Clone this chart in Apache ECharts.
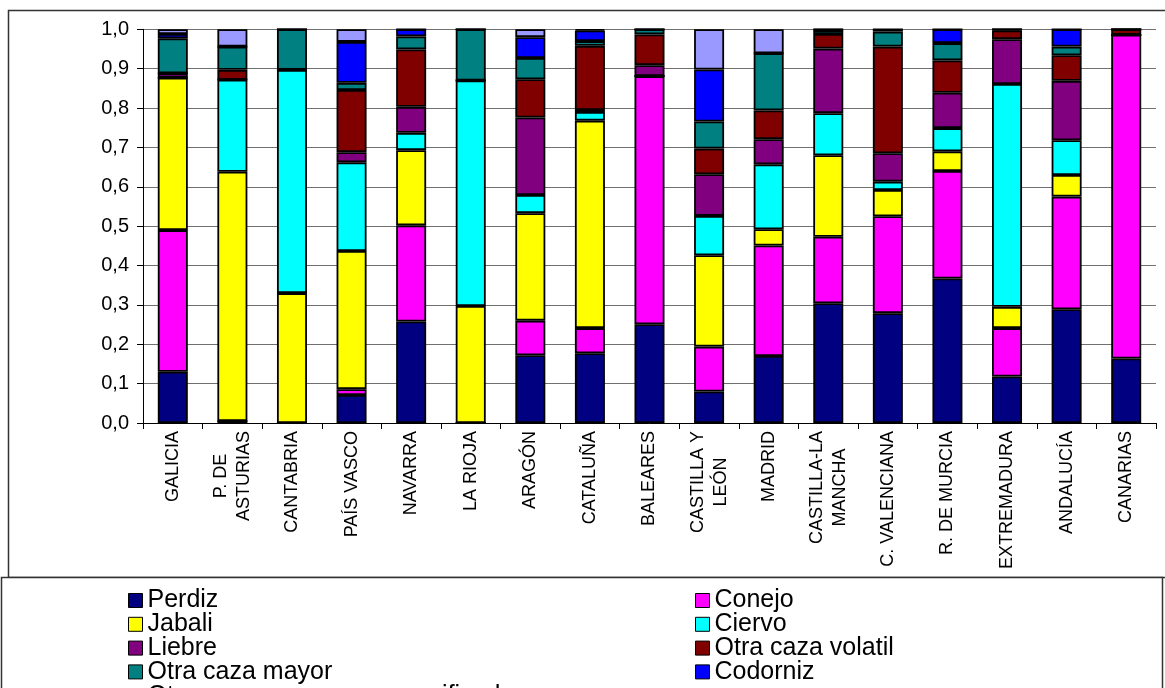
<!DOCTYPE html>
<html>
<head>
<meta charset="utf-8">
<script src="https://cdn.jsdelivr.net/npm/echarts@6/dist/echarts.min.js"></script>
<style>
  html, body { margin: 0; padding: 0; background: #fff; }
  #chart { width: 1165px; height: 688px; }
</style>
</head>
<body>
<div id="chart"></div>
<script>
// Regions (comunidades autónomas), in drawing order
const categories = ['GALICIA', 'P. DE\nASTURIAS', 'CANTABRIA', 'PAÍS VASCO', 'NAVARRA', 'LA RIOJA',
  'ARAGÓN', 'CATALUÑA', 'BALEARES', 'CASTILLA Y\nLEÓN', 'MADRID', 'CASTILLA-LA\nMANCHA',
  'C. VALENCIANA', 'R. DE MURCIA', 'EXTREMADURA', 'ANDALUCÍA', 'CANARIAS'];

// Share of each game type per region (each column sums to 1)
const perdiz   = [0.130, 0.005, 0.000, 0.071, 0.258, 0.000, 0.172, 0.177, 0.251, 0.080, 0.170, 0.304, 0.279, 0.367, 0.118, 0.289, 0.164];
const conejo   = [0.360, 0.000, 0.000, 0.015, 0.244, 0.000, 0.088, 0.064, 0.630, 0.114, 0.281, 0.169, 0.246, 0.273, 0.123, 0.286, 0.822];
const jabali   = [0.387, 0.633, 0.330, 0.351, 0.191, 0.297, 0.273, 0.527, 0.000, 0.232, 0.041, 0.207, 0.067, 0.050, 0.054, 0.055, 0.000];
const ciervo   = [0.000, 0.234, 0.567, 0.225, 0.044, 0.573, 0.046, 0.022, 0.000, 0.100, 0.165, 0.107, 0.021, 0.059, 0.566, 0.088, 0.000];
const liebre   = [0.011, 0.000, 0.000, 0.026, 0.066, 0.000, 0.197, 0.005, 0.028, 0.106, 0.064, 0.164, 0.072, 0.090, 0.114, 0.151, 0.000];
const volatil  = [0.000, 0.025, 0.000, 0.158, 0.146, 0.000, 0.097, 0.163, 0.078, 0.065, 0.073, 0.037, 0.271, 0.082, 0.022, 0.065, 0.014];
const mayor    = [0.089, 0.059, 0.103, 0.018, 0.033, 0.130, 0.054, 0.012, 0.013, 0.069, 0.145, 0.010, 0.038, 0.044, 0.003, 0.022, 0.000];
const codorniz = [0.011, 0.000, 0.000, 0.104, 0.018, 0.000, 0.053, 0.027, 0.000, 0.132, 0.000, 0.002, 0.006, 0.035, 0.000, 0.044, 0.000];
const otraMenor= [0.012, 0.044, 0.000, 0.032, 0.000, 0.000, 0.020, 0.003, 0.000, 0.102, 0.061, 0.000, 0.000, 0.000, 0.000, 0.000, 0.000];

const seriesDefs = [
  { name: 'Perdiz', data: perdiz, color: '#000080' },
  { name: 'Conejo', data: conejo, color: '#FF00FF' },
  { name: 'Jabali', data: jabali, color: '#FFFF00' },
  { name: 'Ciervo', data: ciervo, color: '#00FFFF' },
  { name: 'Liebre', data: liebre, color: '#800080' },
  { name: 'Otra caza volatil', data: volatil, color: '#800000' },
  { name: 'Otra caza mayor', data: mayor, color: '#008080' },
  { name: 'Codorniz', data: codorniz, color: '#0000FF' },
  { name: 'Otra caza menor no especificada', data: otraMenor, color: '#9999FF' }
];

const FONT = "'Liberation Sans', Arial, sans-serif";

// Legend: two columns, filled row by row (one legend component per entry)
const LEGEND_COLS = [128, 695];
const LEGEND_TOP = 588;
const LEGEND_ROW = 23.8;
const legendText = { fontSize: 25, lineHeight: 24, color: '#000', fontFamily: FONT };
const legends = seriesDefs.map((s, i) => ({
  orient: 'horizontal', itemWidth: 14, itemHeight: 14, icon: 'rect',
  selectedMode: false, padding: 0, textStyle: legendText,
  itemStyle: { borderColor: '#000', borderWidth: 1 },
  left: LEGEND_COLS[i % 2],
  top: LEGEND_TOP + Math.floor(i / 2) * LEGEND_ROW,
  data: [s.name]
}));

const chart = echarts.init(document.getElementById('chart'), null, { renderer: 'canvas' });
chart.setOption({
  animation: false,
  backgroundColor: '#fff',
  graphic: [
    { type: 'rect', z: -10, silent: true,
      shape: { x: 8.5, y: 10.5, width: 1200, height: 567 },
      style: { fill: 'none', stroke: '#333', lineWidth: 1.5 } },
    { type: 'rect', z: 1, silent: true,
      shape: { x: 1.5, y: 577.5, width: 1161, height: 200 },
      style: { fill: '#fff', stroke: '#333', lineWidth: 1.5 } }
  ],
  grid: { left: 143, right: 9, top: 29.3, bottom: 265, containLabel: false },
  legend: legends,
  xAxis: {
    type: 'category',
    data: categories,
    axisLine: { lineStyle: { color: '#000', width: 1 } },
    axisTick: { show: true, length: 6, lineStyle: { color: '#000' } },
    axisLabel: {
      interval: 0, rotate: 90, margin: 8, color: '#000',
      fontSize: 18, fontFamily: FONT,
      formatter: v => v.split('\n').map(l => '{c|' + l + '}').join('\n'),
      rich: { c: { fontSize: 18, fontFamily: FONT, color: '#000', lineHeight: 23, align: 'center' } }
    }
  },
  yAxis: {
    type: 'value', min: 0, max: 1, interval: 0.1,
    axisLine: { show: true, lineStyle: { color: '#000', width: 1 } },
    axisTick: { show: true, length: 6, lineStyle: { color: '#000' } },
    splitLine: { show: true, lineStyle: { color: '#707070', width: 1 } },
    axisLabel: {
      margin: 14, color: '#000', fontSize: 20, fontFamily: FONT,
      formatter: v => v.toFixed(1).replace('.', ',')
    }
  },
  series: seriesDefs.map(s => ({
    name: s.name,
    type: 'bar',
    stack: 'total',
    barWidth: 30,
    data: s.data,
    itemStyle: { color: s.color, borderColor: '#000', borderWidth: 1.8 }
  }))
});
</script>
</body>
</html>
